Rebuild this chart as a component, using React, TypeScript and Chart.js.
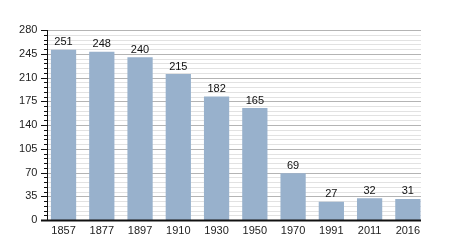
import React, { useEffect, useRef } from "react";
import { Chart, registerables } from "chart.js";

Chart.register(...registerables);

const years = ["1857", "1877", "1897", "1910", "1930", "1950", "1970", "1991", "2011", "2016"];
const population = [251, 248, 240, 215, 182, 165, 69, 27, 32, 31];
const yMin = 0;
const yMax = 280;
const majorStep = 35;
const minorStep = 7;

const FONT = "'Liberation Sans', Arial, sans-serif";

export default function App() {
  const ref = useRef<HTMLCanvasElement | null>(null);

  useEffect(() => {
    if (!ref.current) return;
    const gridPlugin = {
      id: "gridAndAxes",
      beforeDatasetsDraw(chart: any) {
        const { ctx, scales } = chart;
        const y = scales.y;
        const left = 47;
        const right = 421;
        ctx.save();
        for (let v = yMin; v <= yMax; v += minorStep) {
          const py = Math.round(y.getPixelForValue(v)) + 0.5;
          const major = v % majorStep === 0;
          ctx.strokeStyle = major ? "#b4b4b4" : "#e2e2e2";
          ctx.lineWidth = 1;
          ctx.beginPath();
          ctx.moveTo(left, py);
          ctx.lineTo(right, py);
          ctx.stroke();
        }
        ctx.restore();
      },
      afterDatasetsDraw(chart: any) {
        const { ctx, scales } = chart;
        const y = scales.y;
        const left = 47;
        const right = 421;
        const top = y.getPixelForValue(yMax);
        const bottom = y.getPixelForValue(yMin);
        ctx.save();
        ctx.strokeStyle = "#111";
        ctx.lineWidth = 1;
        for (let v = yMin; v <= yMax; v += minorStep) {
          const py = Math.round(y.getPixelForValue(v)) + 0.5;
          const major = v % majorStep === 0;
          ctx.beginPath();
          ctx.moveTo(left - (major ? 6 : 3), py);
          ctx.lineTo(left, py);
          ctx.stroke();
        }
        ctx.beginPath();
        ctx.moveTo(left + 0.5, top);
        ctx.lineTo(left + 0.5, bottom);
        ctx.stroke();
        ctx.lineWidth = 2;
        ctx.beginPath();
        ctx.moveTo(left - 6, bottom + 0.5);
        ctx.lineTo(right, bottom + 0.5);
        ctx.stroke();
        // value labels
        const meta = chart.getDatasetMeta(0);
        ctx.fillStyle = "#111";
        ctx.font = `11px ${FONT}`;
        ctx.textAlign = "center";
        ctx.textBaseline = "bottom";
        meta.data.forEach((bar: any, i: number) => {
          ctx.fillText(String(population[i]), bar.x, bar.y - 2);
        });
        ctx.restore();
      },
    };

    const chart = new Chart(ref.current, {
      type: "bar",
      data: {
        labels: years,
        datasets: [
          {
            data: population,
            backgroundColor: "#98b1cc",
            borderWidth: 0,
            barPercentage: 0.66,
            categoryPercentage: 1,
          },
        ],
      },
      options: {
        responsive: false,
        animation: false,
        layout: { padding: { left: 0, right: 23, top: 30, bottom: 0 } },
        plugins: { legend: { display: false }, tooltip: { enabled: false } },
        scales: {
          x: {
            grid: { display: false, drawTicks: false },
            border: { display: false },
            ticks: { color: "#222", font: { family: FONT, size: 11 }, padding: 4, maxRotation: 0, autoSkip: false },
            afterFit(scale: any) {
              scale.height = 30;
            },
          },
          y: {
            min: yMin,
            max: yMax,
            grid: { display: false, drawTicks: false },
            border: { display: false },
            ticks: { stepSize: majorStep, color: "#222", font: { family: FONT, size: 11 }, padding: 7 },
            afterFit(scale: any) {
              scale.width = 44.4;
            },
          },
        },
      },
      plugins: [gridPlugin],
    });
    return () => chart.destroy();
  }, []);

  return (
    <div style={{ position: "fixed", left: 0, top: 0, width: 450, height: 250, background: "#fff" }}>
      <canvas ref={ref} width={450} height={250} />
    </div>
  );
}
